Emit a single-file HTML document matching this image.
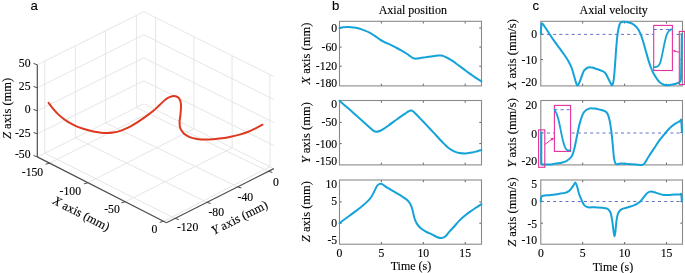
<!DOCTYPE html>
<html><head><meta charset="utf-8"><style>
html,body{margin:0;padding:0;background:#fff;}
svg{display:block;will-change:transform;}
text{fill:#000;stroke:#000;stroke-width:0.12px;}
</style></head><body>
<svg width="685" height="273" viewBox="0 0 685 273">
<rect width="685" height="273" fill="#fff"/>
<line x1="44.78" y1="153.17" x2="44.78" y2="61.07" stroke="#e6e6e6" stroke-width="1.0"/>
<line x1="75.39" y1="137.93" x2="75.39" y2="45.83" stroke="#e6e6e6" stroke-width="1.0"/>
<line x1="105.61" y1="122.87" x2="105.61" y2="30.77" stroke="#e6e6e6" stroke-width="1.0"/>
<line x1="136.42" y1="107.53" x2="136.42" y2="15.43" stroke="#e6e6e6" stroke-width="1.0"/>
<line x1="37.30" y1="156.90" x2="143.90" y2="103.80" stroke="#e6e6e6" stroke-width="1.0"/>
<line x1="37.30" y1="133.88" x2="143.90" y2="80.78" stroke="#e6e6e6" stroke-width="1.0"/>
<line x1="37.30" y1="110.85" x2="143.90" y2="57.75" stroke="#e6e6e6" stroke-width="1.0"/>
<line x1="37.30" y1="87.83" x2="143.90" y2="34.73" stroke="#e6e6e6" stroke-width="1.0"/>
<line x1="37.30" y1="64.80" x2="143.90" y2="11.70" stroke="#e6e6e6" stroke-width="1.0"/>
<line x1="155.61" y1="109.64" x2="155.59" y2="17.53" stroke="#e6e6e6" stroke-width="1.0"/>
<line x1="193.94" y1="128.76" x2="193.86" y2="36.62" stroke="#e6e6e6" stroke-width="1.0"/>
<line x1="232.17" y1="147.83" x2="232.03" y2="55.66" stroke="#e6e6e6" stroke-width="1.0"/>
<line x1="270.00" y1="166.70" x2="269.80" y2="74.51" stroke="#e6e6e6" stroke-width="1.0"/>
<line x1="143.90" y1="103.80" x2="273.80" y2="168.60" stroke="#e6e6e6" stroke-width="1.0"/>
<line x1="143.90" y1="80.78" x2="273.75" y2="145.55" stroke="#e6e6e6" stroke-width="1.0"/>
<line x1="143.90" y1="57.75" x2="273.70" y2="122.50" stroke="#e6e6e6" stroke-width="1.0"/>
<line x1="143.90" y1="34.73" x2="273.65" y2="99.45" stroke="#e6e6e6" stroke-width="1.0"/>
<line x1="143.90" y1="11.70" x2="273.60" y2="76.40" stroke="#e6e6e6" stroke-width="1.0"/>
<line x1="49.57" y1="163.15" x2="155.61" y2="109.64" stroke="#e6e6e6" stroke-width="1.0"/>
<line x1="87.98" y1="182.73" x2="193.94" y2="128.76" stroke="#e6e6e6" stroke-width="1.0"/>
<line x1="125.30" y1="201.75" x2="232.17" y2="147.83" stroke="#e6e6e6" stroke-width="1.0"/>
<line x1="163.61" y1="221.28" x2="270.00" y2="166.70" stroke="#e6e6e6" stroke-width="1.0"/>
<line x1="174.90" y1="218.42" x2="44.78" y2="153.17" stroke="#e6e6e6" stroke-width="1.0"/>
<line x1="206.80" y1="202.35" x2="75.39" y2="137.93" stroke="#e6e6e6" stroke-width="1.0"/>
<line x1="237.50" y1="186.89" x2="105.61" y2="122.87" stroke="#e6e6e6" stroke-width="1.0"/>
<line x1="268.40" y1="171.32" x2="136.42" y2="107.53" stroke="#e6e6e6" stroke-width="1.0"/>
<path d="M48.60,102.80 C49.30,103.72 51.18,106.37 52.80,108.30 C54.42,110.23 56.47,112.62 58.30,114.40 C60.13,116.18 61.97,117.63 63.80,119.00 C65.63,120.37 67.17,121.38 69.30,122.60 C71.43,123.82 74.15,125.23 76.60,126.30 C79.05,127.37 81.55,128.22 84.00,129.00 C86.45,129.78 88.87,130.45 91.30,131.00 C93.73,131.55 96.15,131.95 98.60,132.30 C101.05,132.65 103.58,133.05 106.00,133.10 C108.42,133.15 110.58,133.02 113.10,132.60 C115.62,132.18 118.42,131.50 121.10,130.60 C123.78,129.70 126.50,128.58 129.20,127.20 C131.90,125.82 134.62,124.02 137.30,122.30 C139.98,120.58 142.62,118.82 145.30,116.90 C147.98,114.98 151.05,112.75 153.40,110.80 C155.75,108.85 157.38,107.08 159.40,105.20 C161.42,103.32 163.82,100.85 165.50,99.50 C167.18,98.15 168.03,97.70 169.50,97.10 C170.97,96.50 172.83,95.83 174.30,95.90 C175.77,95.97 177.27,96.57 178.30,97.50 C179.33,98.43 180.05,99.88 180.50,101.50 C180.95,103.12 181.02,104.92 181.00,107.20 C180.98,109.48 180.63,112.82 180.40,115.20 C180.17,117.58 179.63,119.37 179.60,121.50 C179.57,123.63 179.50,126.00 180.20,128.00 C180.90,130.00 182.22,131.98 183.80,133.50 C185.38,135.02 187.50,136.18 189.70,137.10 C191.90,138.02 194.57,138.58 197.00,139.00 C199.43,139.42 201.62,139.55 204.30,139.60 C206.98,139.65 210.17,139.52 213.10,139.30 C216.03,139.08 218.97,138.73 221.90,138.30 C224.83,137.87 227.77,137.32 230.70,136.70 C233.63,136.08 236.57,135.43 239.50,134.60 C242.43,133.77 245.62,132.75 248.30,131.70 C250.98,130.65 253.23,129.47 255.60,128.30 C257.97,127.13 261.35,125.30 262.50,124.70" fill="none" stroke="#e0381f" stroke-width="2" stroke-linecap="round" stroke-linejoin="round"/>
<line x1="37.30" y1="156.90" x2="37.30" y2="64.80" stroke="#4d4d4d" stroke-width="1.2"/>
<line x1="37.30" y1="156.90" x2="166.40" y2="222.70" stroke="#4d4d4d" stroke-width="1.2"/>
<line x1="166.40" y1="222.70" x2="273.80" y2="168.60" stroke="#4d4d4d" stroke-width="1.2"/>
<line x1="37.30" y1="156.90" x2="33.50" y2="155.50" stroke="#4d4d4d" stroke-width="1.0"/>
<line x1="37.30" y1="133.88" x2="33.50" y2="132.47" stroke="#4d4d4d" stroke-width="1.0"/>
<line x1="37.30" y1="110.85" x2="33.50" y2="109.45" stroke="#4d4d4d" stroke-width="1.0"/>
<line x1="37.30" y1="87.83" x2="33.50" y2="86.42" stroke="#4d4d4d" stroke-width="1.0"/>
<line x1="37.30" y1="64.80" x2="33.50" y2="63.40" stroke="#4d4d4d" stroke-width="1.0"/>
<line x1="49.57" y1="163.15" x2="45.67" y2="164.25" stroke="#4d4d4d" stroke-width="1.0"/>
<line x1="87.98" y1="182.73" x2="84.08" y2="183.83" stroke="#4d4d4d" stroke-width="1.0"/>
<line x1="125.30" y1="201.75" x2="121.40" y2="202.85" stroke="#4d4d4d" stroke-width="1.0"/>
<line x1="163.61" y1="221.28" x2="159.71" y2="222.38" stroke="#4d4d4d" stroke-width="1.0"/>
<line x1="174.90" y1="218.42" x2="178.80" y2="219.52" stroke="#4d4d4d" stroke-width="1.0"/>
<line x1="206.80" y1="202.35" x2="210.70" y2="203.45" stroke="#4d4d4d" stroke-width="1.0"/>
<line x1="237.50" y1="186.89" x2="241.40" y2="187.99" stroke="#4d4d4d" stroke-width="1.0"/>
<line x1="268.40" y1="171.32" x2="272.30" y2="172.42" stroke="#4d4d4d" stroke-width="1.0"/>
<text x="30.50" y="67.00" font-size="11.7" text-anchor="end" font-family="'Liberation Serif', serif" >50</text>
<text x="30.50" y="89.80" font-size="11.7" text-anchor="end" font-family="'Liberation Serif', serif" >25</text>
<text x="30.50" y="113.00" font-size="11.7" text-anchor="end" font-family="'Liberation Serif', serif" >0</text>
<text x="30.50" y="137.00" font-size="11.7" text-anchor="end" font-family="'Liberation Serif', serif" >-25</text>
<text x="30.50" y="158.40" font-size="11.7" text-anchor="end" font-family="'Liberation Serif', serif" >-50</text>
<text x="32.50" y="176.10" font-size="11.7" text-anchor="middle" font-family="'Liberation Serif', serif" >-150</text>
<text x="70.30" y="194.80" font-size="11.7" text-anchor="middle" font-family="'Liberation Serif', serif" >-100</text>
<text x="112.00" y="213.40" font-size="11.7" text-anchor="middle" font-family="'Liberation Serif', serif" >-50</text>
<text x="154.50" y="233.00" font-size="11.7" text-anchor="middle" font-family="'Liberation Serif', serif" >0</text>
<text x="187.60" y="231.10" font-size="11.7" text-anchor="middle" font-family="'Liberation Serif', serif" >-120</text>
<text x="216.20" y="216.10" font-size="11.7" text-anchor="middle" font-family="'Liberation Serif', serif" >-80</text>
<text x="245.30" y="200.60" font-size="11.7" text-anchor="middle" font-family="'Liberation Serif', serif" >-40</text>
<text x="275.80" y="185.50" font-size="11.7" text-anchor="middle" font-family="'Liberation Serif', serif" >0</text>
<text transform="translate(10.6,108.4) rotate(-90)" font-size="12.5" text-anchor="middle" font-family="'Liberation Serif', serif"><tspan font-style="italic">Z</tspan> axis (mm)</text>
<text transform="translate(79.6,217.3) rotate(26.8)" font-size="12.5" text-anchor="middle" font-family="'Liberation Serif', serif"><tspan font-style="italic">X</tspan> axis (mm)</text>
<text transform="translate(241.4,221.2) rotate(-26.8)" font-size="12.5" text-anchor="middle" font-family="'Liberation Serif', serif"><tspan font-style="italic">Y</tspan> axis (mm)</text>
<text x="30.50" y="10.30" font-size="13.2" text-anchor="start" font-family="'Liberation Sans', sans-serif" >a</text>
<line x1="381.40" y1="85.90" x2="381.40" y2="83.70" stroke="#4d4d4d" stroke-width="0.9"/>
<line x1="381.40" y1="21.30" x2="381.40" y2="23.50" stroke="#4d4d4d" stroke-width="0.9"/>
<line x1="423.30" y1="85.90" x2="423.30" y2="83.70" stroke="#4d4d4d" stroke-width="0.9"/>
<line x1="423.30" y1="21.30" x2="423.30" y2="23.50" stroke="#4d4d4d" stroke-width="0.9"/>
<line x1="465.20" y1="85.90" x2="465.20" y2="83.70" stroke="#4d4d4d" stroke-width="0.9"/>
<line x1="465.20" y1="21.30" x2="465.20" y2="23.50" stroke="#4d4d4d" stroke-width="0.9"/>
<line x1="339.50" y1="28.00" x2="341.70" y2="28.00" stroke="#4d4d4d" stroke-width="0.9"/>
<line x1="481.50" y1="28.00" x2="479.30" y2="28.00" stroke="#4d4d4d" stroke-width="0.9"/>
<line x1="339.50" y1="47.10" x2="341.70" y2="47.10" stroke="#4d4d4d" stroke-width="0.9"/>
<line x1="481.50" y1="47.10" x2="479.30" y2="47.10" stroke="#4d4d4d" stroke-width="0.9"/>
<line x1="339.50" y1="66.20" x2="341.70" y2="66.20" stroke="#4d4d4d" stroke-width="0.9"/>
<line x1="481.50" y1="66.20" x2="479.30" y2="66.20" stroke="#4d4d4d" stroke-width="0.9"/>
<rect x="339.50" y="21.30" width="142.00" height="64.60" fill="none" stroke="#8a8a8a" stroke-width="1.1"/>
<path d="M339.50,28.00 C340.13,27.87 341.80,27.38 343.30,27.20 C344.80,27.02 346.75,26.85 348.50,26.90 C350.25,26.95 352.03,27.23 353.80,27.50 C355.57,27.77 357.35,28.02 359.10,28.50 C360.85,28.98 362.55,29.70 364.30,30.40 C366.05,31.10 367.85,31.78 369.60,32.70 C371.35,33.62 373.05,34.75 374.80,35.90 C376.55,37.05 378.57,38.62 380.10,39.60 C381.63,40.58 382.25,40.93 384.00,41.80 C385.75,42.67 388.62,43.85 390.60,44.80 C392.58,45.75 394.13,46.57 395.90,47.50 C397.67,48.43 399.45,49.40 401.20,50.40 C402.95,51.40 404.93,52.57 406.40,53.50 C407.87,54.43 408.97,55.28 410.00,56.00 C411.03,56.72 411.80,57.37 412.60,57.80 C413.40,58.23 414.03,58.48 414.80,58.60 C415.57,58.72 416.25,58.60 417.20,58.50 C418.15,58.40 419.40,58.17 420.50,58.00 C421.60,57.83 422.37,57.72 423.80,57.50 C425.23,57.28 427.33,56.95 429.10,56.70 C430.87,56.45 432.92,56.20 434.40,56.00 C435.88,55.80 436.90,55.57 438.00,55.50 C439.10,55.43 439.97,55.45 441.00,55.60 C442.03,55.75 443.10,56.00 444.20,56.40 C445.30,56.80 446.15,57.20 447.60,58.00 C449.05,58.80 451.15,60.03 452.90,61.20 C454.65,62.37 456.35,63.72 458.10,65.00 C459.85,66.28 461.63,67.58 463.40,68.90 C465.17,70.22 466.93,71.62 468.70,72.90 C470.47,74.18 472.47,75.55 474.00,76.60 C475.53,77.65 476.67,78.42 477.90,79.20 C479.13,79.98 480.82,80.95 481.40,81.30" fill="none" stroke="#14a3d8" stroke-width="2.0" stroke-linecap="round" stroke-linejoin="round"/>
<line x1="381.40" y1="164.90" x2="381.40" y2="162.70" stroke="#4d4d4d" stroke-width="0.9"/>
<line x1="381.40" y1="100.50" x2="381.40" y2="102.70" stroke="#4d4d4d" stroke-width="0.9"/>
<line x1="423.30" y1="164.90" x2="423.30" y2="162.70" stroke="#4d4d4d" stroke-width="0.9"/>
<line x1="423.30" y1="100.50" x2="423.30" y2="102.70" stroke="#4d4d4d" stroke-width="0.9"/>
<line x1="465.20" y1="164.90" x2="465.20" y2="162.70" stroke="#4d4d4d" stroke-width="0.9"/>
<line x1="465.20" y1="100.50" x2="465.20" y2="102.70" stroke="#4d4d4d" stroke-width="0.9"/>
<line x1="339.50" y1="122.40" x2="341.70" y2="122.40" stroke="#4d4d4d" stroke-width="0.9"/>
<line x1="481.50" y1="122.40" x2="479.30" y2="122.40" stroke="#4d4d4d" stroke-width="0.9"/>
<line x1="339.50" y1="143.60" x2="341.70" y2="143.60" stroke="#4d4d4d" stroke-width="0.9"/>
<line x1="481.50" y1="143.60" x2="479.30" y2="143.60" stroke="#4d4d4d" stroke-width="0.9"/>
<rect x="339.50" y="100.50" width="142.00" height="64.40" fill="none" stroke="#8a8a8a" stroke-width="1.1"/>
<path d="M339.50,100.70 C340.53,101.62 343.38,104.17 345.70,106.20 C348.02,108.23 350.83,110.63 353.40,112.90 C355.97,115.17 358.53,117.50 361.10,119.80 C363.67,122.10 366.88,124.98 368.80,126.70 C370.72,128.42 371.42,129.27 372.60,130.10 C373.78,130.93 374.83,131.52 375.90,131.70 C376.97,131.88 377.83,131.60 379.00,131.20 C380.17,130.80 381.18,130.35 382.90,129.30 C384.62,128.25 386.95,126.57 389.30,124.90 C391.65,123.23 394.43,121.13 397.00,119.30 C399.57,117.47 402.78,115.23 404.70,113.90 C406.62,112.57 407.45,111.88 408.50,111.30 C409.55,110.72 410.20,110.38 411.00,110.40 C411.80,110.42 412.08,110.38 413.30,111.40 C414.52,112.42 416.62,114.77 418.30,116.50 C419.98,118.23 421.70,120.02 423.40,121.80 C425.10,123.58 426.80,125.40 428.50,127.20 C430.20,129.00 431.88,130.75 433.60,132.60 C435.32,134.45 437.08,136.47 438.80,138.30 C440.52,140.13 442.20,141.93 443.90,143.60 C445.60,145.27 447.28,147.02 449.00,148.30 C450.72,149.58 452.48,150.53 454.20,151.30 C455.92,152.07 457.38,152.55 459.30,152.90 C461.22,153.25 463.57,153.45 465.70,153.40 C467.83,153.35 470.18,152.95 472.10,152.60 C474.02,152.25 475.65,151.72 477.20,151.30 C478.75,150.88 480.70,150.30 481.40,150.10" fill="none" stroke="#14a3d8" stroke-width="2.0" stroke-linecap="round" stroke-linejoin="round"/>
<line x1="381.40" y1="244.20" x2="381.40" y2="242.00" stroke="#4d4d4d" stroke-width="0.9"/>
<line x1="381.40" y1="180.00" x2="381.40" y2="182.20" stroke="#4d4d4d" stroke-width="0.9"/>
<line x1="423.30" y1="244.20" x2="423.30" y2="242.00" stroke="#4d4d4d" stroke-width="0.9"/>
<line x1="423.30" y1="180.00" x2="423.30" y2="182.20" stroke="#4d4d4d" stroke-width="0.9"/>
<line x1="465.20" y1="244.20" x2="465.20" y2="242.00" stroke="#4d4d4d" stroke-width="0.9"/>
<line x1="465.20" y1="180.00" x2="465.20" y2="182.20" stroke="#4d4d4d" stroke-width="0.9"/>
<line x1="339.50" y1="201.90" x2="341.70" y2="201.90" stroke="#4d4d4d" stroke-width="0.9"/>
<line x1="481.50" y1="201.90" x2="479.30" y2="201.90" stroke="#4d4d4d" stroke-width="0.9"/>
<line x1="339.50" y1="223.20" x2="341.70" y2="223.20" stroke="#4d4d4d" stroke-width="0.9"/>
<line x1="481.50" y1="223.20" x2="479.30" y2="223.20" stroke="#4d4d4d" stroke-width="0.9"/>
<rect x="339.50" y="180.00" width="142.00" height="64.20" fill="none" stroke="#8a8a8a" stroke-width="1.1"/>
<path d="M339.50,223.20 C340.53,222.42 343.38,220.22 345.70,218.50 C348.02,216.78 350.83,214.82 353.40,212.90 C355.97,210.98 358.75,208.92 361.10,207.00 C363.45,205.08 365.80,203.07 367.50,201.40 C369.20,199.73 370.15,198.72 371.30,197.00 C372.45,195.28 373.45,192.93 374.40,191.10 C375.35,189.27 376.15,187.20 377.00,186.00 C377.85,184.80 378.65,184.20 379.50,183.90 C380.35,183.60 380.90,183.63 382.10,184.20 C383.30,184.77 385.08,186.28 386.70,187.30 C388.32,188.32 390.08,189.28 391.80,190.30 C393.52,191.32 395.28,192.37 397.00,193.40 C398.72,194.43 400.40,195.38 402.10,196.50 C403.80,197.62 405.83,198.85 407.20,200.10 C408.57,201.35 409.43,202.43 410.30,204.00 C411.17,205.57 411.72,207.17 412.40,209.50 C413.08,211.83 413.63,215.60 414.40,218.00 C415.17,220.40 415.93,222.18 417.00,223.90 C418.07,225.62 419.32,227.02 420.80,228.30 C422.28,229.58 423.97,230.53 425.90,231.60 C427.83,232.67 430.47,233.77 432.40,234.70 C434.33,235.63 436.02,236.65 437.50,237.20 C438.98,237.75 440.02,238.12 441.30,238.00 C442.58,237.88 443.92,237.48 445.20,236.50 C446.48,235.52 447.50,233.77 449.00,232.10 C450.50,230.43 452.48,228.42 454.20,226.50 C455.92,224.58 457.60,222.35 459.30,220.60 C461.00,218.85 462.70,217.42 464.40,216.00 C466.10,214.58 467.78,213.35 469.50,212.10 C471.22,210.85 472.72,209.82 474.70,208.50 C476.68,207.18 480.28,204.92 481.40,204.20" fill="none" stroke="#14a3d8" stroke-width="2.0" stroke-linecap="round" stroke-linejoin="round"/>
<line x1="582.70" y1="85.90" x2="582.70" y2="83.70" stroke="#4d4d4d" stroke-width="0.9"/>
<line x1="582.70" y1="21.30" x2="582.70" y2="23.50" stroke="#4d4d4d" stroke-width="0.9"/>
<line x1="624.60" y1="85.90" x2="624.60" y2="83.70" stroke="#4d4d4d" stroke-width="0.9"/>
<line x1="624.60" y1="21.30" x2="624.60" y2="23.50" stroke="#4d4d4d" stroke-width="0.9"/>
<line x1="666.50" y1="85.90" x2="666.50" y2="83.70" stroke="#4d4d4d" stroke-width="0.9"/>
<line x1="666.50" y1="21.30" x2="666.50" y2="23.50" stroke="#4d4d4d" stroke-width="0.9"/>
<line x1="540.80" y1="34.20" x2="543.00" y2="34.20" stroke="#4d4d4d" stroke-width="0.9"/>
<line x1="682.50" y1="34.20" x2="680.30" y2="34.20" stroke="#4d4d4d" stroke-width="0.9"/>
<line x1="540.80" y1="59.60" x2="543.00" y2="59.60" stroke="#4d4d4d" stroke-width="0.9"/>
<line x1="682.50" y1="59.60" x2="680.30" y2="59.60" stroke="#4d4d4d" stroke-width="0.9"/>
<rect x="540.80" y="21.30" width="141.70" height="64.60" fill="none" stroke="#8a8a8a" stroke-width="1.1"/>
<line x1="540.80" y1="34.40" x2="682.50" y2="34.40" stroke="#6070cb" stroke-width="1.0" stroke-dasharray="3.0 3.17"/>
<path d="M540.80,33.80 C540.92,32.20 541.25,25.87 541.50,24.20 C541.75,22.53 541.95,23.67 542.30,23.80 C542.65,23.93 542.57,23.55 543.60,25.00 C544.63,26.45 546.80,29.93 548.50,32.50 C550.20,35.07 552.03,37.87 553.80,40.40 C555.57,42.93 557.35,45.30 559.10,47.70 C560.85,50.10 562.77,52.60 564.30,54.80 C565.83,57.00 567.07,58.70 568.30,60.90 C569.53,63.10 570.62,65.07 571.70,68.00 C572.78,70.93 573.92,75.65 574.80,78.50 C575.68,81.35 576.33,84.22 577.00,85.10 C577.67,85.98 578.07,85.12 578.80,83.80 C579.53,82.48 580.53,79.40 581.40,77.20 C582.27,75.00 582.90,72.22 584.00,70.60 C585.10,68.98 586.67,68.02 588.00,67.50 C589.33,66.98 590.68,67.28 592.00,67.50 C593.32,67.72 594.37,68.28 595.90,68.80 C597.43,69.32 599.68,69.95 601.20,70.60 C602.72,71.25 603.93,71.60 605.00,72.70 C606.07,73.80 606.72,75.57 607.60,77.20 C608.48,78.83 609.55,81.18 610.30,82.50 C611.05,83.82 611.53,85.55 612.10,85.10 C612.67,84.65 613.22,83.08 613.70,79.80 C614.18,76.52 614.60,70.43 615.00,65.40 C615.40,60.37 615.67,54.87 616.10,49.60 C616.53,44.33 617.03,37.97 617.60,33.80 C618.17,29.63 618.88,26.57 619.50,24.60 C620.12,22.63 620.43,22.48 621.30,22.00 C622.17,21.52 623.47,21.62 624.70,21.70 C625.93,21.78 627.38,22.15 628.70,22.50 C630.02,22.85 631.28,23.02 632.60,23.80 C633.92,24.58 635.28,25.53 636.60,27.20 C637.92,28.87 639.40,31.38 640.50,33.80 C641.60,36.22 642.32,38.85 643.20,41.70 C644.08,44.55 644.93,47.83 645.80,50.90 C646.67,53.97 647.52,57.25 648.40,60.10 C649.28,62.95 650.22,65.72 651.10,68.00 C651.98,70.28 652.62,71.83 653.70,73.80 C654.78,75.77 656.55,78.35 657.60,79.80 C658.65,81.25 658.93,81.68 660.00,82.50 C661.07,83.32 662.83,84.25 664.00,84.70 C665.17,85.15 665.77,85.20 667.00,85.20 C668.23,85.20 669.93,84.95 671.40,84.70 C672.87,84.45 674.47,84.12 675.80,83.70 C677.13,83.28 678.55,82.93 679.40,82.20 C680.25,81.47 680.58,82.22 680.90,79.30 C681.22,76.38 681.18,69.58 681.30,64.70 C681.42,59.82 681.52,55.12 681.60,50.00 C681.68,44.88 681.77,36.67 681.80,34.00" fill="none" stroke="#14a3d8" stroke-width="2.0" stroke-linecap="round" stroke-linejoin="round"/>
<line x1="582.70" y1="164.90" x2="582.70" y2="162.70" stroke="#4d4d4d" stroke-width="0.9"/>
<line x1="582.70" y1="100.50" x2="582.70" y2="102.70" stroke="#4d4d4d" stroke-width="0.9"/>
<line x1="624.60" y1="164.90" x2="624.60" y2="162.70" stroke="#4d4d4d" stroke-width="0.9"/>
<line x1="624.60" y1="100.50" x2="624.60" y2="102.70" stroke="#4d4d4d" stroke-width="0.9"/>
<line x1="666.50" y1="164.90" x2="666.50" y2="162.70" stroke="#4d4d4d" stroke-width="0.9"/>
<line x1="666.50" y1="100.50" x2="666.50" y2="102.70" stroke="#4d4d4d" stroke-width="0.9"/>
<line x1="540.80" y1="132.40" x2="543.00" y2="132.40" stroke="#4d4d4d" stroke-width="0.9"/>
<line x1="682.50" y1="132.40" x2="680.30" y2="132.40" stroke="#4d4d4d" stroke-width="0.9"/>
<rect x="540.80" y="100.50" width="141.70" height="64.40" fill="none" stroke="#8a8a8a" stroke-width="1.1"/>
<line x1="540.80" y1="133.00" x2="682.50" y2="133.00" stroke="#6070cb" stroke-width="1.0" stroke-dasharray="3.0 3.17"/>
<path d="M541.00,132.40 C541.05,133.00 541.25,133.07 541.30,136.00 C541.35,138.93 541.28,145.57 541.30,150.00 C541.32,154.43 541.23,160.22 541.40,162.60 C541.57,164.98 541.73,163.97 542.30,164.30 C542.87,164.63 543.68,164.57 544.80,164.60 C545.92,164.63 547.35,164.63 549.00,164.50 C550.65,164.37 552.87,164.05 554.70,163.80 C556.53,163.55 558.02,163.47 560.00,163.00 C561.98,162.53 564.62,162.17 566.60,161.00 C568.58,159.83 570.58,158.15 571.90,156.00 C573.22,153.85 573.62,151.62 574.50,148.10 C575.38,144.58 576.32,139.07 577.20,134.90 C578.08,130.73 578.72,126.83 579.80,123.10 C580.88,119.37 582.17,114.92 583.70,112.50 C585.23,110.08 587.23,109.25 589.00,108.60 C590.77,107.95 592.53,108.43 594.30,108.60 C596.07,108.77 597.83,109.17 599.60,109.60 C601.37,110.03 603.58,110.50 604.90,111.20 C606.22,111.90 606.72,112.27 607.50,113.80 C608.28,115.33 608.93,117.32 609.60,120.40 C610.27,123.48 610.97,128.12 611.50,132.30 C612.03,136.48 612.37,141.10 612.80,145.50 C613.23,149.90 613.58,155.62 614.10,158.70 C614.62,161.78 614.80,163.18 615.90,164.00 C617.00,164.82 618.70,163.60 620.70,163.60 C622.70,163.60 625.38,163.85 627.90,164.00 C630.42,164.15 633.38,164.37 635.80,164.50 C638.22,164.63 640.85,165.12 642.40,164.80 C643.95,164.48 644.00,164.07 645.10,162.60 C646.20,161.13 647.47,158.42 649.00,156.00 C650.53,153.58 652.53,150.73 654.30,148.10 C656.07,145.47 657.83,142.62 659.60,140.20 C661.37,137.78 663.15,135.67 664.90,133.60 C666.65,131.53 668.35,129.47 670.10,127.80 C671.85,126.13 673.72,124.73 675.40,123.60 C677.08,122.47 679.23,121.53 680.20,121.00 C681.17,120.47 680.90,118.52 681.20,120.40 C681.50,122.28 681.87,130.32 682.00,132.30" fill="none" stroke="#14a3d8" stroke-width="2.0" stroke-linecap="round" stroke-linejoin="round"/>
<line x1="582.70" y1="244.20" x2="582.70" y2="242.00" stroke="#4d4d4d" stroke-width="0.9"/>
<line x1="582.70" y1="180.00" x2="582.70" y2="182.20" stroke="#4d4d4d" stroke-width="0.9"/>
<line x1="624.60" y1="244.20" x2="624.60" y2="242.00" stroke="#4d4d4d" stroke-width="0.9"/>
<line x1="624.60" y1="180.00" x2="624.60" y2="182.20" stroke="#4d4d4d" stroke-width="0.9"/>
<line x1="666.50" y1="244.20" x2="666.50" y2="242.00" stroke="#4d4d4d" stroke-width="0.9"/>
<line x1="666.50" y1="180.00" x2="666.50" y2="182.20" stroke="#4d4d4d" stroke-width="0.9"/>
<line x1="540.80" y1="201.40" x2="543.00" y2="201.40" stroke="#4d4d4d" stroke-width="0.9"/>
<line x1="682.50" y1="201.40" x2="680.30" y2="201.40" stroke="#4d4d4d" stroke-width="0.9"/>
<line x1="540.80" y1="223.20" x2="543.00" y2="223.20" stroke="#4d4d4d" stroke-width="0.9"/>
<line x1="682.50" y1="223.20" x2="680.30" y2="223.20" stroke="#4d4d4d" stroke-width="0.9"/>
<rect x="540.80" y="180.00" width="141.70" height="64.20" fill="none" stroke="#8a8a8a" stroke-width="1.1"/>
<line x1="540.80" y1="201.50" x2="682.50" y2="201.50" stroke="#6070cb" stroke-width="1.0" stroke-dasharray="3.0 3.17"/>
<path d="M540.80,201.40 C540.88,200.67 540.92,197.95 541.30,197.00 C541.68,196.05 541.52,196.03 543.10,195.70 C544.68,195.37 548.23,195.30 550.80,195.00 C553.37,194.70 556.15,194.25 558.50,193.90 C560.85,193.55 563.18,193.37 564.90,192.90 C566.62,192.43 567.73,191.83 568.80,191.10 C569.87,190.37 570.45,189.57 571.30,188.50 C572.15,187.43 573.22,185.68 573.90,184.70 C574.58,183.72 574.88,182.38 575.40,182.60 C575.92,182.82 576.40,184.15 577.00,186.00 C577.60,187.85 578.23,191.35 579.00,193.70 C579.77,196.05 580.73,198.18 581.60,200.10 C582.47,202.02 583.13,204.00 584.20,205.20 C585.27,206.40 586.30,206.95 588.00,207.30 C589.70,207.65 592.05,207.22 594.40,207.30 C596.75,207.38 600.33,207.65 602.10,207.80 C603.87,207.95 604.00,207.95 605.00,208.20 C606.00,208.45 607.17,208.52 608.10,209.30 C609.03,210.08 609.92,211.02 610.60,212.90 C611.28,214.78 611.72,217.62 612.20,220.60 C612.68,223.58 613.12,228.18 613.50,230.80 C613.88,233.42 614.17,236.30 614.50,236.30 C614.83,236.30 615.17,233.42 615.50,230.80 C615.83,228.18 616.03,223.58 616.50,220.60 C616.97,217.62 617.43,214.82 618.30,212.90 C619.17,210.98 620.07,210.03 621.70,209.10 C623.33,208.17 625.97,207.95 628.10,207.30 C630.23,206.65 632.58,206.07 634.50,205.20 C636.42,204.33 638.10,203.38 639.60,202.10 C641.10,200.82 642.22,199.02 643.50,197.50 C644.78,195.98 646.02,193.98 647.30,193.00 C648.58,192.02 649.70,191.62 651.20,191.60 C652.70,191.58 654.17,192.33 656.30,192.90 C658.43,193.47 661.43,194.70 664.00,195.00 C666.57,195.30 669.13,194.80 671.70,194.70 C674.27,194.60 677.82,194.45 679.40,194.40 C680.98,194.35 680.78,193.23 681.20,194.40 C681.62,195.57 681.78,200.23 681.90,201.40" fill="none" stroke="#14a3d8" stroke-width="2.0" stroke-linecap="round" stroke-linejoin="round"/>
<rect x="653.7" y="25.4" width="18.7" height="45.1" fill="white" stroke="#e4309c" stroke-width="1.1"/>
<line x1="653.70" y1="29.50" x2="672.40" y2="29.50" stroke="#6070cb" stroke-width="1.0" stroke-dasharray="3.0 3.17"/>
<path d="M654.20,67.10 C654.67,67.03 656.23,67.00 657.00,66.70 C657.77,66.40 658.27,65.97 658.80,65.30 C659.33,64.63 659.77,63.87 660.20,62.70 C660.63,61.53 660.98,60.07 661.40,58.30 C661.82,56.53 662.25,54.30 662.70,52.10 C663.15,49.90 663.63,47.30 664.10,45.10 C664.57,42.90 665.02,40.72 665.50,38.90 C665.98,37.08 666.45,35.52 667.00,34.20 C667.55,32.88 668.20,31.77 668.80,31.00 C669.40,30.23 670.07,29.88 670.60,29.60 C671.13,29.32 671.77,29.35 672.00,29.30" fill="none" stroke="#14a3d8" stroke-width="1.8" stroke-linecap="round" stroke-linejoin="round"/>
<rect x="679.3" y="31.4" width="5.4" height="53.1" fill="none" stroke="#e4309c" stroke-width="1.1"/>
<line x1="679.3" y1="52.3" x2="674.2" y2="51.0" stroke="#e4309c" stroke-width="1"/>
<path d="M672.6,50.6 L675.4,50.0 L674.9,52.2 Z" fill="#e4309c"/>
<rect x="554.4" y="105.4" width="16.2" height="46.0" fill="white" stroke="#e4309c" stroke-width="1.1"/>
<line x1="554.40" y1="109.70" x2="570.60" y2="109.70" stroke="#6070cb" stroke-width="1.0" stroke-dasharray="3.0 3.17"/>
<path d="M554.60,109.70 C555.02,110.60 556.35,113.02 557.10,115.10 C557.85,117.18 558.43,119.33 559.10,122.20 C559.77,125.07 560.43,129.12 561.10,132.30 C561.77,135.48 562.43,138.78 563.10,141.30 C563.77,143.82 564.43,145.95 565.10,147.40 C565.77,148.85 566.25,149.52 567.10,150.00 C567.95,150.48 569.68,150.25 570.20,150.30" fill="none" stroke="#14a3d8" stroke-width="1.8" stroke-linecap="round" stroke-linejoin="round"/>
<rect x="538.6" y="129.9" width="6.2" height="37.4" fill="none" stroke="#e4309c" stroke-width="1.1"/>
<line x1="544.8" y1="144.6" x2="551.5" y2="139.4" stroke="#e4309c" stroke-width="1"/>
<path d="M554.3,137.7 L550.5,138.2 L551.9,140.9 Z" fill="#e4309c"/>
<text x="337.20" y="32.10" font-size="11.7" text-anchor="end" font-family="'Liberation Serif', serif" >0</text>
<text x="337.20" y="51.30" font-size="11.7" text-anchor="end" font-family="'Liberation Serif', serif" >-60</text>
<text x="337.20" y="70.30" font-size="11.7" text-anchor="end" font-family="'Liberation Serif', serif" >-120</text>
<text x="337.20" y="86.70" font-size="11.7" text-anchor="end" font-family="'Liberation Serif', serif" >-180</text>
<text x="337.20" y="108.30" font-size="11.7" text-anchor="end" font-family="'Liberation Serif', serif" >0</text>
<text x="337.20" y="126.30" font-size="11.7" text-anchor="end" font-family="'Liberation Serif', serif" >-50</text>
<text x="337.20" y="148.20" font-size="11.7" text-anchor="end" font-family="'Liberation Serif', serif" >-100</text>
<text x="337.20" y="165.20" font-size="11.7" text-anchor="end" font-family="'Liberation Serif', serif" >-150</text>
<text x="337.20" y="187.70" font-size="11.7" text-anchor="end" font-family="'Liberation Serif', serif" >10</text>
<text x="337.20" y="205.30" font-size="11.7" text-anchor="end" font-family="'Liberation Serif', serif" >5</text>
<text x="337.20" y="226.90" font-size="11.7" text-anchor="end" font-family="'Liberation Serif', serif" >0</text>
<text x="337.20" y="244.00" font-size="11.7" text-anchor="end" font-family="'Liberation Serif', serif" >-5</text>
<text x="537.20" y="38.40" font-size="11.7" text-anchor="end" font-family="'Liberation Serif', serif" >0</text>
<text x="537.20" y="63.80" font-size="11.7" text-anchor="end" font-family="'Liberation Serif', serif" >-10</text>
<text x="537.20" y="86.00" font-size="11.7" text-anchor="end" font-family="'Liberation Serif', serif" >-20</text>
<text x="537.20" y="108.70" font-size="11.7" text-anchor="end" font-family="'Liberation Serif', serif" >20</text>
<text x="537.20" y="137.60" font-size="11.7" text-anchor="end" font-family="'Liberation Serif', serif" >0</text>
<text x="537.20" y="165.10" font-size="11.7" text-anchor="end" font-family="'Liberation Serif', serif" >-20</text>
<text x="537.20" y="188.00" font-size="11.7" text-anchor="end" font-family="'Liberation Serif', serif" >5</text>
<text x="537.20" y="206.00" font-size="11.7" text-anchor="end" font-family="'Liberation Serif', serif" >0</text>
<text x="537.20" y="227.60" font-size="11.7" text-anchor="end" font-family="'Liberation Serif', serif" >-5</text>
<text x="537.20" y="243.60" font-size="11.7" text-anchor="end" font-family="'Liberation Serif', serif" >-10</text>
<text x="339.50" y="256.90" font-size="11.7" text-anchor="middle" font-family="'Liberation Serif', serif" >0</text>
<text x="381.40" y="256.90" font-size="11.7" text-anchor="middle" font-family="'Liberation Serif', serif" >5</text>
<text x="423.30" y="256.90" font-size="11.7" text-anchor="middle" font-family="'Liberation Serif', serif" >10</text>
<text x="465.20" y="256.90" font-size="11.7" text-anchor="middle" font-family="'Liberation Serif', serif" >15</text>
<text x="411.00" y="270.40" font-size="12.0" text-anchor="middle" font-family="'Liberation Serif', serif">Time (s)</text>
<text x="540.80" y="256.90" font-size="11.7" text-anchor="middle" font-family="'Liberation Serif', serif" >0</text>
<text x="582.70" y="256.90" font-size="11.7" text-anchor="middle" font-family="'Liberation Serif', serif" >5</text>
<text x="624.60" y="256.90" font-size="11.7" text-anchor="middle" font-family="'Liberation Serif', serif" >10</text>
<text x="666.50" y="256.90" font-size="11.7" text-anchor="middle" font-family="'Liberation Serif', serif" >15</text>
<text x="613.00" y="271.00" font-size="12.0" text-anchor="middle" font-family="'Liberation Serif', serif">Time (s)</text>
<text transform="translate(310.20,53.60) rotate(-90)" font-size="12.5" text-anchor="middle" font-family="'Liberation Serif', serif"><tspan font-style="italic">X</tspan> axis (mm)</text>
<text transform="translate(310.20,132.70) rotate(-90)" font-size="12.5" text-anchor="middle" font-family="'Liberation Serif', serif"><tspan font-style="italic">Y</tspan> axis (mm)</text>
<text transform="translate(310.20,211.60) rotate(-90)" font-size="12.5" text-anchor="middle" font-family="'Liberation Serif', serif"><tspan font-style="italic">Z</tspan> axis (mm)</text>
<text transform="translate(515.80,54.20) rotate(-90)" font-size="12.5" text-anchor="middle" font-family="'Liberation Serif', serif"><tspan font-style="italic">X</tspan> axis (mm/s)</text>
<text transform="translate(515.80,132.90) rotate(-90)" font-size="12.5" text-anchor="middle" font-family="'Liberation Serif', serif"><tspan font-style="italic">Y</tspan> axis (mm/s)</text>
<text transform="translate(515.80,212.10) rotate(-90)" font-size="12.5" text-anchor="middle" font-family="'Liberation Serif', serif"><tspan font-style="italic">Z</tspan> axis (mm/s)</text>
<text x="412.8" y="14.3" font-size="12.0" text-anchor="middle" font-family="'Liberation Serif', serif">Axial position</text>
<text x="613.7" y="14.2" font-size="12.0" text-anchor="middle" font-family="'Liberation Serif', serif">Axial velocity</text>
<text x="332.00" y="10.40" font-size="13.2" text-anchor="start" font-family="'Liberation Sans', sans-serif" >b</text>
<text x="532.40" y="10.40" font-size="13.2" text-anchor="start" font-family="'Liberation Sans', sans-serif" >c</text>
</svg>
</body></html>
